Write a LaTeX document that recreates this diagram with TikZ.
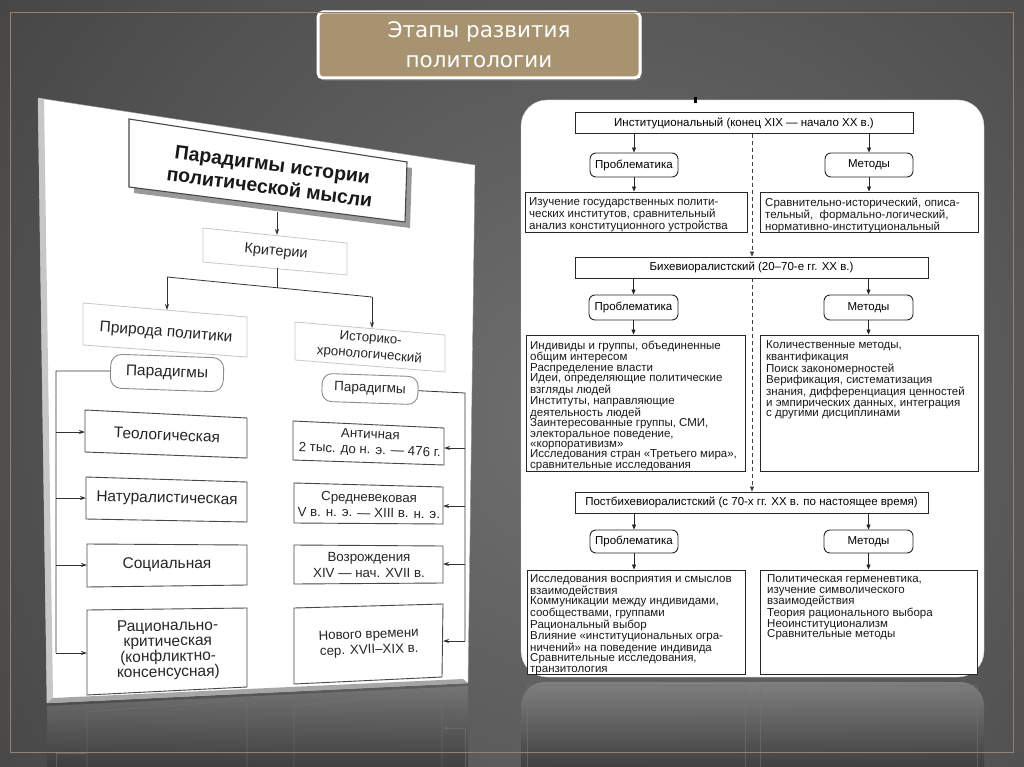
\documentclass[tikz,border=0pt]{standalone}
\usepackage{fontspec}
\setmainfont{Liberation Sans}
\newfontfamily\titlefont{DejaVu Sans}
\usetikzlibrary{arrows.meta,shadows}
\definecolor{bgA}{RGB}{112,112,112}
\definecolor{bgB}{RGB}{72,72,72}
\definecolor{bgC}{RGB}{28,28,28}
\definecolor{tan}{RGB}{167,147,111}
\definecolor{framecol}{RGB}{150,128,112}
\definecolor{reflA}{RGB}{120,120,120}
\definecolor{reflB}{RGB}{60,60,60}
\pgfdeclareradialshading{bgshade}{\pgfpoint{0bp}{0bp}}{color(0bp)=(bgA); color(22bp)=(bgB); color(42bp)=(bgC); color(50bp)=(bgC)}
\begin{document}
\begin{tikzpicture}[x=1pt,y=-1pt,
  lbox/.style={draw=black!72, line width=0.9pt, fill=white},
  lboxlight/.style={draw=black!22, line width=0.8pt, fill=white},
  ltext/.style={font=\fontsize{15.5}{15.3}\selectfont, text=black!85, align=center, inner sep=0pt},
  ltextr/.style={font=\fontsize{13.3}{15.5}\selectfont, text=black!85, align=center, inner sep=0pt},
  lpill/.style={draw=black!45, line width=0.9pt, fill=white, rounded corners=11pt, inner sep=0pt},
  lline/.style={draw=black!80, line width=0.8pt},
  larr/.style={draw=black!80, line width=0.8pt, -{Stealth[length=6pt,width=4pt]}},
  rbox/.style={draw=black!85, line width=0.9pt, fill=white, inner sep=0pt},
  rpill/.style={rbox, rounded corners=6pt, font=\fontsize{11.5}{12}\selectfont},
  rhead/.style={rbox, font=\fontsize{11.5}{12}\selectfont},
  rtext/.style={font=\fontsize{11.5}{10.45}\selectfont, text=black!90, align=left, inner sep=0pt, anchor=north west},
  rarr/.style={draw=black!85, line width=0.8pt, -{Triangle[length=5pt,width=4pt]}},
  rdash/.style={draw=black!75, line width=0.8pt, dash pattern=on 4pt off 3pt, -{Triangle[length=5pt,width=4pt]}},
  reflbox/.style={draw=black!55, line width=0.7pt, opacity=0.6}
]
\useasboundingbox (0,0) rectangle (1024,767);
% background
\begin{scope}
\clip (0,0) rectangle (1024,767);
\shade[shading=bgshade] (600,420) circle (800);
\end{scope}

% ---------- reflections ----------
\shade[top color=reflA, bottom color=reflB, opacity=0.85] (47,706) -- (468,686) -- (468,767) -- (47,767) -- cycle;
\draw[reflbox] (87,767) -- (87,712) -- (247,700) -- (247,767);
\draw[reflbox] (294,767) -- (294,706) -- (442,690) -- (442,767);
\draw[reflbox] (465,767) -- (465,728);
\draw[reflbox, -{Stealth[length=5pt,width=3.5pt]}] (465,728) -- (443,728);
\draw[reflbox] (56,767) -- (56,753);
\draw[reflbox, -{Stealth[length=5pt,width=3.5pt]}] (56,753) -- (87,753);
\shade[top color=reflA!90!white, bottom color=reflB, opacity=0.85, rounded corners=24pt] (521,767) -- (521,682) -- (984,682) -- (984,767);
\draw[reflbox] (527,767) -- (527,685) -- (745,685) -- (745,767);
\draw[reflbox] (760,767) -- (760,685) -- (977,685) -- (977,767);

% ---------- left panel ----------
\filldraw[fill=white, draw=black!40] (38,98) -- (475,165) -- (468,683) -- (47,703) -- cycle;
\fill[black!22] (38,98) -- (44,99) -- (53,698) -- (47,703) -- cycle;
\fill[black!35] (47,703) -- (53,698) -- (463,679) -- (468,683) -- cycle;

% main box
\fill[black!40] (134,125) -- (412,168) -- (410,228) -- (134,193) -- cycle;
\draw[lbox, line width=1.1pt] (129,119) -- (407,162) -- (405,222) -- (129,187) -- cycle;
\node[ltext, font=\fontsize{19.5}{23}\selectfont\bfseries, text=black!90, rotate=-7.5] (mainT) at (271,176) {Парадигмы истории\\политической мысли};

% criteria level
\draw[lboxlight] (203,228) -- (347,243) -- (347,275) -- (203,262) -- cycle;
\node[ltext, font=\fontsize{14.5}{15}\selectfont, rotate=-5.5] (critT) at (276,252) {Критерии};
\draw[lboxlight] (83,303) -- (247,317) -- (247,357) -- (83,345) -- cycle;
\node[ltext, rotate=-4.5] (prirT) at (166,333) {Природа политики};
\draw[lboxlight] (295,322) -- (445,335) -- (445,372) -- (295,360) -- cycle;
\node[ltextr, font=\fontsize{13.3}{16.5}\selectfont, rotate=-4.7] (histT) at (370,347) {Историко-\\хронологический};

% paradigm pills
\node[lpill, minimum width=113pt, minimum height=34pt, rotate=-2] (parL) at (167,373) {\fontsize{15.5}{16}\selectfont\color{black!85}Парадигмы};
\node[lpill, minimum width=96pt, minimum height=28pt, rotate=-2, rounded corners=10pt] (parR) at (370,389) {\fontsize{13.5}{14}\selectfont\color{black!85}Парадигмы};

% left column boxes
\draw[lbox] (85,410) -- (247,418) -- (247,458) -- (85,452) -- cycle;
\node[ltext, rotate=-2.5] (teoT) at (167,435) {Теологическая};
\draw[lbox] (86,477) -- (247,482) -- (247,522) -- (86,519) -- cycle;
\node[ltext, rotate=-1.4] (natT) at (167,499) {Натуралистическая};
\draw[lbox] (87,544) -- (247,545) -- (247,585) -- (87,587) -- cycle;
\node[ltext] (socT) at (167,565) {Социальная};
\draw[lbox] (87,610) -- (247,608) -- (247,687) -- (87,695) -- cycle;
\node[ltext, rotate=1] (ratT) at (168,650) {Рационально-\\критическая\\(конфликтно-\\консенсусная)};

% right column boxes
\draw[lbox] (293,421) -- (444,428) -- (444,465) -- (293,460) -- cycle;
\node[ltextr, rotate=-2.3] (antT) at (370,443) {Античная\\2 тыс. до н. э. — 476 г.};
\draw[lbox] (294,483) -- (443,487) -- (443,524) -- (294,523) -- cycle;
\node[ltextr, rotate=-1] (medT) at (369,505) {Средневековая\\V в. н. э. — XIII в. н. э.};
\draw[lbox] (294,545) -- (443,546) -- (443,583) -- (294,584) -- cycle;
\node[ltextr] (renT) at (369,565) {Возрождения\\XIV — нач. XVII в.};
\draw[lbox] (294,608) -- (443,604) -- (442,677) -- (294,684) -- cycle;
\node[ltextr, rotate=2] (modT) at (369,643) {Нового времени\\сер. XVII–XIX в.};

% left connectors
\coordinate (mainS) at (277,212);
\coordinate (critN) at (277,235);
\coordinate (critS) at (277,268);
\coordinate (jn) at (277,288);
\coordinate (busL) at (167,277);
\coordinate (busR) at (372,297);
\coordinate (prirN) at (167,310);
\coordinate (histN) at (372,328);
\draw[larr] (mainS) -- (critN);
\draw[lline] (critS) -- (jn);
\draw[lline] (busL) -- (busR);
\draw[larr] (busL) -- (prirN);
\draw[larr] (busR) -- (histN);

\coordinate (lbusT) at (56,371);
\coordinate (lbusB) at (56,653);
\coordinate (teoW) at (85,432);
\coordinate (natW) at (86,498);
\coordinate (socW) at (87,565);
\coordinate (ratW) at (87,653);
\draw[lline] (parL.west) -- (lbusT) -- (lbusB);
\foreach \t in {teoW,natW,socW,ratW} \draw[larr] (\t -| lbusT) -- (\t);

\coordinate (rbusT) at (465,393);
\coordinate (rbusB) at (465,641);
\coordinate (antE) at (444,448);
\coordinate (medE) at (443,506);
\coordinate (renE) at (443,564);
\coordinate (modE) at (443,641);
\draw[lline] (parR.east) -- (rbusT) -- (rbusB);
\foreach \t in {antE,medE,renE,modE} \draw[larr] (\t -| rbusT) -- (\t);

% ---------- right panel ----------
\draw[fill=white, draw=black!20, rounded corners=26pt] (521,100) rectangle (984,677);
\fill[black] (693.5,97) rectangle (696.5,103);

\node[rhead, minimum width=338pt, minimum height=21pt] (inst) at (744,123) {Институциональный (конец XIX — начало XX в.)};
\node[rpill, minimum width=88pt, minimum height=24pt] (prob1) at (634,165) {Проблематика};
\node[rpill, minimum width=88pt, minimum height=24pt] (meth1) at (869,165) {Методы};
\node[rbox, minimum width=222pt, minimum height=40pt] (d1L) at (636,212) {};
\node[rbox, minimum width=218pt, minimum height=40pt] (d1R) at (869,212) {};
\node[rtext] (t1L) at (529,197.5) {Изучение государственных полити-\\ческих институтов, сравнительный\\анализ конституционного устройства};
\node[rtext] (t1R) at (765,197.5) {Сравнительно-исторический, описа-\\тельный,\ \ формально-логический,\\нормативно-институциональный};

\node[rhead, minimum width=353pt, minimum height=21pt] (beh) at (751.5,267.5) {Бихевиоралистский (20–70-е гг. XX в.)};
\node[rpill, minimum width=89pt, minimum height=25pt] (prob2) at (633.5,307.5) {Проблематика};
\node[rpill, minimum width=89pt, minimum height=25pt] (meth2) at (868.5,307.5) {Методы};
\node[rbox, minimum width=219pt, minimum height=136pt] (d2L) at (635.5,403) {};
\node[rbox, minimum width=218pt, minimum height=136pt] (d2R) at (869,403) {};
\node[rtext] (t2L) at (530,340.5) {Индивиды и группы, объединенные\\общим интересом\\Распределение власти\\Идеи, определяющие политические\\взгляды людей\\Институты, направляющие\\деятельность людей\\Заинтересованные группы, СМИ,\\электоральное поведение,\\«корпоративизм»\\Исследования стран «Третьего мира»,\\сравнительные исследования};
\node[rtext] (t2R) at (766,340.5) {Количественные методы,\\квантификация\\Поиск закономерностей\\Верификация, систематизация\\знания, дифференциация ценностей\\и эмпирических данных, интеграция\\с другими дисциплинами};

\node[rhead, minimum width=353pt, minimum height=21pt] (post) at (751.5,502.5) {Постбихевиоралистский (с 70-х гг. XX в. по настоящее время)};
\node[rpill, minimum width=88pt, minimum height=23pt] (prob3) at (634,541.5) {Проблематика};
\node[rpill, minimum width=89pt, minimum height=23pt] (meth3) at (868.5,541.5) {Методы};
\node[rbox, minimum width=218pt, minimum height=104pt] (d3L) at (636,622) {};
\node[rbox, minimum width=217pt, minimum height=104pt] (d3R) at (868.5,622) {};
\node[rtext] (t3L) at (530,574.5) {Исследования восприятия и смыслов\\взаимодействия\\Коммуникации между индивидами,\\сообществами, группами\\Рациональный выбор\\Влияние «институциональных огра-\\ничений» на поведение индивида\\Сравнительные исследования,\\транзитология};
\node[rtext] (t3R) at (767,574.5) {Политическая герменевтика,\\изучение символического\\взаимодействия\\Теория рационального выбора\\Неоинституционализм\\Сравнительные методы};

% right connectors
\coordinate (dashx) at (752,0);
\foreach \h/\p/\m/\l/\r in {inst/prob1/meth1/d1L/d1R, beh/prob2/meth2/d2L/d2R, post/prob3/meth3/d3L/d3R} {
  \draw[rarr] (\p |- \h.south) -- (\p.north);
  \draw[rarr] (\m |- \h.south) -- (\m.north);
  \draw[rarr] (\p.south) -- (\p.south |- \l.north);
  \draw[rarr] (\m.south) -- (\m.south |- \r.north);
}
\draw[rdash] (dashx |- inst.south) -- (dashx |- beh.north);
\draw[rdash] (dashx |- beh.south) -- (dashx |- post.north);

% ---------- title ----------
\node[draw=white, line width=3pt, fill=tan, rounded corners=5pt, minimum width=322pt, minimum height=66pt,
      text=white, align=center, font=\titlefont\fontsize{21.5}{30}\selectfont,
      drop shadow={opacity=0.5, shadow xshift=2pt, shadow yshift=-3pt}] (title) at (479,45) {Этапы развития\\политологии};

% frame
\draw[framecol, line width=1pt] (10,13) rectangle (1013,752);
\end{tikzpicture}
\end{document}
